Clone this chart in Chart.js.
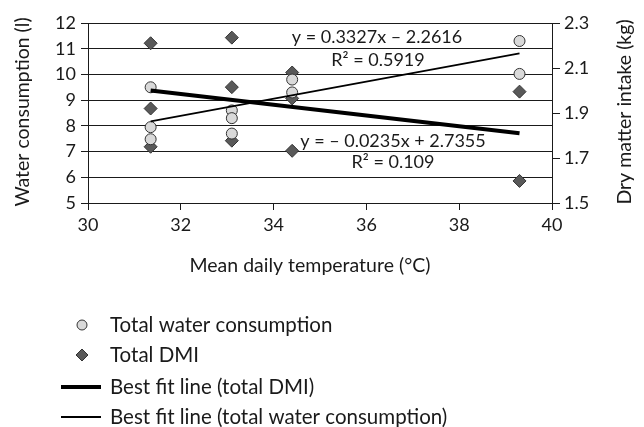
<!DOCTYPE html>
<html>
<head>
<meta charset="utf-8">
<script src="https://cdn.jsdelivr.net/npm/chart.js@4/dist/chart.umd.min.js"></script>
<style>
  body { margin: 0; background: #fff; }
</style>
</head>
<body>
<canvas id="myChart" width="644" height="427"></canvas>
<script>
// mean daily temperature for each measurement
const waterTemps = [31.35, 31.35, 31.35, 33.1, 33.1, 33.1, 34.4, 34.4, 39.3, 39.3]
const waterValues = [9.5, 7.95, 7.48, 8.6, 8.3, 7.7, 9.8, 9.3, 11.3, 10.02]

const dmiTemps = [31.35, 31.35, 31.35, 33.1, 33.1, 33.1, 34.4, 34.4, 34.4, 39.3, 39.3]
const dmiValues = [2.21, 1.92, 1.75, 2.235, 2.015, 1.777, 2.08, 1.965, 1.732, 1.995, 1.598]

// end points of the best fit lines
const fitTemps = [31.35, 39.3]
const waterFit = [8.17, 10.82]
const dmiFit = [2.0, 1.81]

const legendLabels = ['Total water consumption', 'Total DMI', 'Best fit line (total DMI)', 'Best fit line (total water consumption)']

const FONT = 'Lato, "Open Sans", sans-serif'
const ink = '#1a1a1a'

const toPoints = (xs, ys) => xs.map((x, i) => ({ x: x, y: ys[i] }))

const textPlugin = {
  id: 'texts',
  afterDraw(chart) {
    const ctx = chart.ctx
    ctx.save()
    ctx.fillStyle = ink
    ctx.font = '18px ' + FONT
    ctx.textBaseline = 'middle'

    // equations
    ctx.textAlign = 'center'
    ctx.fillText('y = 0.3327x \u2013 2.2616', 377, 37)
    ctx.fillText('R\u00b2 = 0.5919', 378, 60)
    ctx.fillText('y = \u2013 0.0235x + 2.7355', 393, 141)
    ctx.fillText('R\u00b2 = 0.109', 393, 162)

    // axis titles
    ctx.font = '19.5px ' + FONT
    ctx.fillText('Mean daily temperature (\u00b0C)', 310, 266)
    ctx.save()
    ctx.translate(23, 112)
    ctx.rotate(-Math.PI / 2)
    ctx.fillText('Water consumption (l)', 0, 0)
    ctx.restore()
    ctx.save()
    ctx.translate(625, 112)
    ctx.rotate(-Math.PI / 2)
    ctx.fillText('Dry matter intake (kg)', 0, 0)
    ctx.restore()

    // legend
    const rows = [325, 355, 387, 417]
    ctx.font = '20.5px ' + FONT
    ctx.textAlign = 'left'
    legendLabels.forEach((t, i) => ctx.fillText(t, 110, rows[i]))

    ctx.lineWidth = 1
    ctx.strokeStyle = '#333'
    ctx.fillStyle = '#d9d9d9'
    ctx.beginPath()
    ctx.arc(82, rows[0], 5, 0, Math.PI * 2)
    ctx.fill()
    ctx.stroke()

    ctx.fillStyle = '#595959'
    ctx.beginPath()
    ctx.moveTo(82, rows[1] - 6)
    ctx.lineTo(88, rows[1])
    ctx.lineTo(82, rows[1] + 6)
    ctx.lineTo(76, rows[1])
    ctx.closePath()
    ctx.fill()
    ctx.stroke()

    ctx.strokeStyle = '#000'
    ctx.lineWidth = 4
    ctx.beginPath()
    ctx.moveTo(61, rows[2])
    ctx.lineTo(101, rows[2])
    ctx.stroke()
    ctx.lineWidth = 2
    ctx.beginPath()
    ctx.moveTo(61, rows[3])
    ctx.lineTo(101, rows[3])
    ctx.stroke()
    ctx.restore()
  }
}

const chart = new Chart(document.getElementById('myChart'), {
  type: 'scatter',
  data: {
    datasets: [
      {
        label: legendLabels[3],
        data: toPoints(fitTemps, waterFit),
        showLine: true,
        borderColor: '#000',
        borderWidth: 1.8,
        pointRadius: 0,
        yAxisID: 'y',
        order: 0
      },
      {
        label: legendLabels[2],
        data: toPoints(fitTemps, dmiFit),
        showLine: true,
        borderColor: '#000',
        borderWidth: 4,
        pointRadius: 0,
        yAxisID: 'y2',
        order: 0
      },
      {
        label: legendLabels[0],
        data: toPoints(waterTemps, waterValues),
        pointStyle: 'circle',
        pointRadius: 5.5,
        backgroundColor: '#d9d9d9',
        borderColor: '#333',
        borderWidth: 1,
        yAxisID: 'y',
        order: 1
      },
      {
        label: legendLabels[1],
        data: toPoints(dmiTemps, dmiValues),
        pointStyle: 'rectRot',
        pointRadius: 6.5,
        backgroundColor: '#595959',
        borderColor: '#333',
        borderWidth: 1,
        yAxisID: 'y2',
        order: 2
      }
    ]
  },
  options: {
    responsive: false,
    animation: false,
    layout: { padding: { top: 23, left: 0, right: 0, bottom: 0 } },
    plugins: {
      legend: { display: false },
      tooltip: { enabled: false }
    },
    scales: {
      x: {
        type: 'linear',
        min: 30,
        max: 40,
        ticks: { stepSize: 2, color: ink, font: { family: FONT, size: 18 }, padding: 4 },
        grid: { drawOnChartArea: false, color: ink, tickLength: 7 },
        border: { color: ink },
        afterFit: s => { s.height = 224 }
      },
      y: {
        position: 'left',
        min: 5,
        max: 12,
        ticks: { stepSize: 1, color: ink, font: { family: FONT, size: 18 }, padding: 5 },
        grid: { color: ink, tickLength: 7 },
        border: { color: ink },
        afterFit: s => { s.width = 88 }
      },
      y2: {
        position: 'right',
        min: 1.5,
        max: 2.3,
        ticks: {
          stepSize: 0.2,
          color: ink,
          font: { family: FONT, size: 18 },
          padding: 4,
          callback: v => v.toFixed(1)
        },
        grid: { drawOnChartArea: false, color: ink, tickLength: 8 },
        border: { color: ink },
        afterFit: s => { s.width = 92 }
      }
    }
  },
  plugins: [textPlugin]
})
</script>
</body>
</html>
